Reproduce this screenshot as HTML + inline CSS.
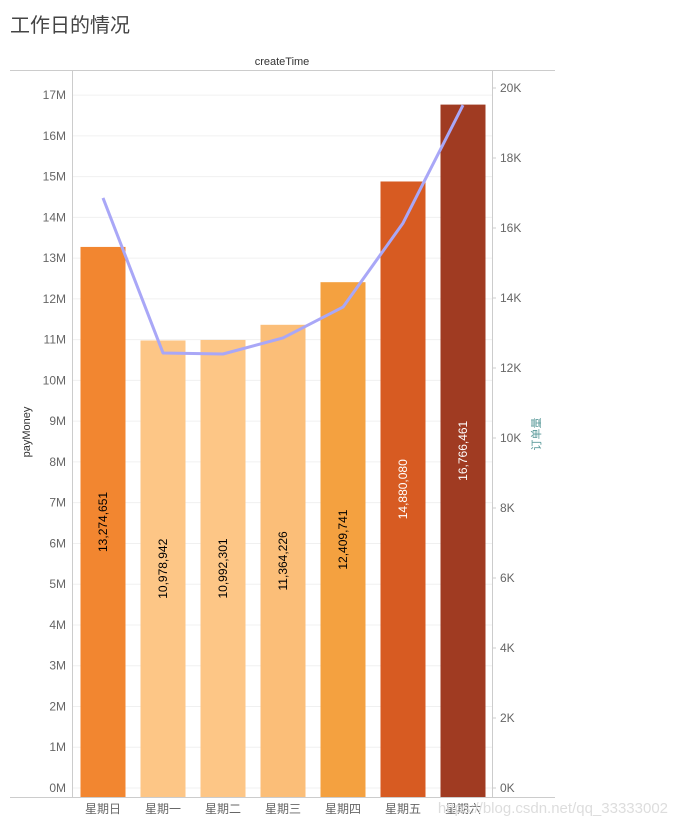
<!DOCTYPE html>
<html><head><meta charset="utf-8"><style>
body{margin:0;background:#fff;}
svg text{font-family:"Liberation Sans","Noto Sans CJK SC",sans-serif;}
</style></head><body>
<svg width="674" height="827" xmlns="http://www.w3.org/2000/svg">
<text x="10" y="32" font-size="20" fill="#444" font-family="'Liberation Serif','Noto Serif CJK SC',serif">工作日的情况</text>
<text x="282" y="65" font-size="11" fill="#333" text-anchor="middle">createTime</text>
<g id="grid"></g>
<g id="bars"></g>
<g id="line"></g>
<g id="axes"></g>
<line x1="10" y1="70.5" x2="555" y2="70.5" stroke="#ccc"/>
<line x1="10" y1="797.5" x2="555" y2="797.5" stroke="#ccc"/>
<line x1="72.5" y1="70" x2="72.5" y2="797" stroke="#ccc"/>
<line x1="492.5" y1="70" x2="492.5" y2="797" stroke="#ccc"/>
<text transform="translate(30,432) rotate(-90)" font-size="11" fill="#333" text-anchor="middle">payMoney</text>
<text transform="translate(540,434) rotate(-90)" font-size="11" fill="#5a9a9a" text-anchor="middle">订单量</text>
<text x="668" y="813" font-size="15" fill="#ddd" text-anchor="end">https://blog.csdn.net/qq_33333002</text>
</svg>
<script>
const categories=["星期日","星期一","星期二","星期三","星期四","星期五","星期六"];
const payMoney=[13274651,10978942,10992301,11364226,12409741,14880080,16766461];
const orderCount=[16860,12430,12400,12860,13740,16140,19510];
const barColors=["#F28630","#FDC686","#FDC686","#FBBE78","#F4A140","#D75B22","#A03B22"];
const labelColors=["#000","#000","#000","#000","#000","#fff","#fff"];
const leftTicks=[0,1,2,3,4,5,6,7,8,9,10,11,12,13,14,15,16,17];
const rightTicks=[0,2,4,6,8,10,12,14,16,18,20];
const NS="http://www.w3.org/2000/svg";
const yL=v=>788-v/1e6*40.76;
const yR=v=>788-v/1000*35;
const xC=i=>103+i*60;
function mk(tag,attrs,parent){const e=document.createElementNS(NS,tag);for(const k in attrs)e.setAttribute(k,attrs[k]);document.getElementById(parent).appendChild(e);return e;}
leftTicks.forEach(t=>{
 const g=mk("line",{x1:73,x2:492,y1:yL(t*1e6),y2:yL(t*1e6),stroke:"#f0f0f0"},"grid");
 
 
 const tx=mk("text",{x:66,y:yL(t*1e6)+4,"font-size":12,fill:"#666","text-anchor":"end"},"axes");
 tx.textContent=t+"M";
 
 
});
rightTicks.forEach(t=>{
 const tx=mk("text",{x:500,y:yR(t*1000)+4,"font-size":12,fill:"#666"},"axes");
 tx.textContent=t+"K";
 
 
 const tk=mk("line",{x1:492,x2:496,y1:yR(t*1000),y2:yR(t*1000),stroke:"#ccc"},"axes");
 
 
});
categories.forEach((c,i)=>{
 const top=yL(payMoney[i]);
 const r=mk("rect",{x:xC(i)-22.5,y:top,width:45,height:797-top,fill:barColors[i]},"bars");
 
 
 const cy=(top+797)/2;
 const lb=mk("text",{transform:`translate(${xC(i)+4},${cy}) rotate(-90)`,"font-size":12,fill:labelColors[i],"text-anchor":"middle"},"bars");
 lb.textContent=payMoney[i].toLocaleString("en-US");
 
 
 const xl=mk("text",{x:xC(i),y:813,"font-size":12,fill:"#666","text-anchor":"middle"},"axes");
 xl.textContent=c;
 
 
});
const pts=orderCount.map((v,i)=>xC(i)+","+yR(v)).join(" ");
const pl=mk("polyline",{points:pts,fill:"none",stroke:"#A9A7F7","stroke-width":3,"stroke-linejoin":"round"},"line");


</script>
</body></html>
